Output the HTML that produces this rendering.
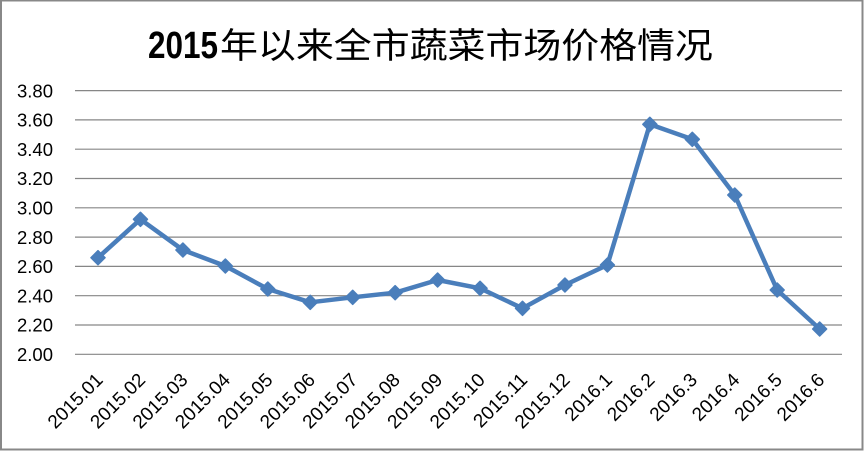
<!DOCTYPE html>
<html>
<head>
<meta charset="utf-8">
<style>
  html,body{margin:0;padding:0;background:#fff;}
  svg{display:block;}
</style>
</head>
<body>
<svg width="865" height="451" viewBox="0 0 865 451" xmlns="http://www.w3.org/2000/svg">
  <rect x="0" y="0" width="865" height="451" fill="#fff"/>
  <rect x="1" y="0.5" width="861.5" height="449" fill="none" stroke="#888" stroke-width="2"/>

  <!-- Title -->
  <text x="148" y="58" font-family="'Liberation Sans', sans-serif" font-weight="bold" font-size="38" textLength="70" lengthAdjust="spacingAndGlyphs" fill="#000">2015</text>
  <text x="220" y="58" font-family="'Liberation Sans','Noto Sans CJK SC',sans-serif" font-size="35" textLength="493" lengthAdjust="spacingAndGlyphs" fill="#000">年以来全市蔬菜市场价格情况</text>

  <!-- gridlines -->
  <g stroke="#868686" stroke-width="1.2">
    <line x1="75" y1="90.6" x2="842" y2="90.6"/>
    <line x1="75" y1="119.9" x2="842" y2="119.9"/>
    <line x1="75" y1="149.2" x2="842" y2="149.2"/>
    <line x1="75" y1="178.5" x2="842" y2="178.5"/>
    <line x1="75" y1="207.8" x2="842" y2="207.8"/>
    <line x1="75" y1="237.1" x2="842" y2="237.1"/>
    <line x1="75" y1="266.4" x2="842" y2="266.4"/>
    <line x1="75" y1="295.7" x2="842" y2="295.7"/>
    <line x1="75" y1="325.0" x2="842" y2="325.0"/>
    <line x1="75" y1="354.3" x2="842" y2="354.3"/>
  </g>

  <!-- y labels -->
  <g font-family="'Liberation Sans', sans-serif" font-size="18.5" fill="#000" text-anchor="end">
    <text x="53" y="97.3">3.80</text>
    <text x="53" y="126.6">3.60</text>
    <text x="53" y="155.9">3.40</text>
    <text x="53" y="185.2">3.20</text>
    <text x="53" y="214.5">3.00</text>
    <text x="53" y="243.8">2.80</text>
    <text x="53" y="273.1">2.60</text>
    <text x="53" y="302.4">2.40</text>
    <text x="53" y="331.7">2.20</text>
    <text x="53" y="361.0">2.00</text>
  </g>

  <!-- x labels -->
  <g font-family="'Liberation Sans', sans-serif" font-size="19" fill="#000" text-anchor="end">
    <text transform="translate(104,381) rotate(-45)">2015.01</text>
    <text transform="translate(146.45,381) rotate(-45)">2015.02</text>
    <text transform="translate(188.9,381) rotate(-45)">2015.03</text>
    <text transform="translate(231.35,381) rotate(-45)">2015.04</text>
    <text transform="translate(273.8,381) rotate(-45)">2015.05</text>
    <text transform="translate(316.25,381) rotate(-45)">2015.06</text>
    <text transform="translate(358.7,381) rotate(-45)">2015.07</text>
    <text transform="translate(401.15,381) rotate(-45)">2015.08</text>
    <text transform="translate(443.6,381) rotate(-45)">2015.09</text>
    <text transform="translate(486.05,381) rotate(-45)">2015.10</text>
    <text transform="translate(528.5,381) rotate(-45)">2015.11</text>
    <text transform="translate(570.95,381) rotate(-45)">2015.12</text>
    <text transform="translate(613.4,381) rotate(-45)">2016.1</text>
    <text transform="translate(655.85,381) rotate(-45)">2016.2</text>
    <text transform="translate(698.3,381) rotate(-45)">2016.3</text>
    <text transform="translate(740.75,381) rotate(-45)">2016.4</text>
    <text transform="translate(783.2,381) rotate(-45)">2016.5</text>
    <text transform="translate(825.65,381) rotate(-45)">2016.6</text>
  </g>

  <!-- series line -->
  <polyline fill="none" stroke="#4a7ebb" stroke-width="4.5" stroke-linejoin="round" stroke-linecap="round"
    points="98,257.7 140.45,219.3 182.9,250 225.35,266 267.8,289 310.25,302.3 352.7,297.3 395.15,292.7 437.6,280 480.05,288.3 522.5,308.3 564.95,285 607.4,265 649.85,124.3 692.3,139.3 734.75,195 777.2,290 819.65,329"/>

  <!-- markers -->
  <g fill="#4a7ebb" stroke="#4a7ebb" stroke-width="1.5" stroke-linejoin="round">
    <path d="M98,250.7 L105,257.7 L98,264.7 L91,257.7 Z"/>
    <path d="M140.45,212.3 L147.45,219.3 L140.45,226.3 L133.45,219.3 Z"/>
    <path d="M182.9,243 L189.9,250 L182.9,257 L175.9,250 Z"/>
    <path d="M225.35,259 L232.35,266 L225.35,273 L218.35,266 Z"/>
    <path d="M267.8,282 L274.8,289 L267.8,296 L260.8,289 Z"/>
    <path d="M310.25,295.3 L317.25,302.3 L310.25,309.3 L303.25,302.3 Z"/>
    <path d="M352.7,290.3 L359.7,297.3 L352.7,304.3 L345.7,297.3 Z"/>
    <path d="M395.15,285.7 L402.15,292.7 L395.15,299.7 L388.15,292.7 Z"/>
    <path d="M437.6,273 L444.6,280 L437.6,287 L430.6,280 Z"/>
    <path d="M480.05,281.3 L487.05,288.3 L480.05,295.3 L473.05,288.3 Z"/>
    <path d="M522.5,301.3 L529.5,308.3 L522.5,315.3 L515.5,308.3 Z"/>
    <path d="M564.95,278 L571.95,285 L564.95,292 L557.95,285 Z"/>
    <path d="M607.4,258 L614.4,265 L607.4,272 L600.4,265 Z"/>
    <path d="M649.85,117.3 L656.85,124.3 L649.85,131.3 L642.85,124.3 Z"/>
    <path d="M692.3,132.3 L699.3,139.3 L692.3,146.3 L685.3,139.3 Z"/>
    <path d="M734.75,188 L741.75,195 L734.75,202 L727.75,195 Z"/>
    <path d="M777.2,283 L784.2,290 L777.2,297 L770.2,290 Z"/>
    <path d="M819.65,322 L826.65,329 L819.65,336 L812.65,329 Z"/>
  </g>
</svg>
</body>
</html>
